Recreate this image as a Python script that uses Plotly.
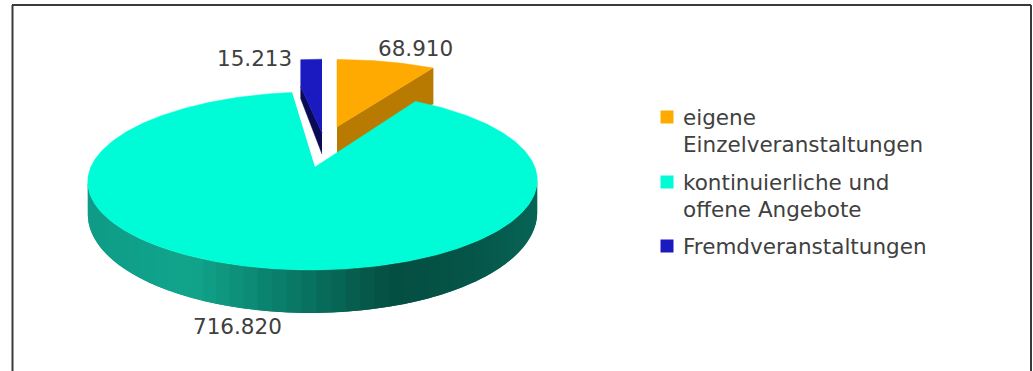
import numpy as np
import plotly.graph_objects as go

CATEGORIES = ["eigene Einzelveranstaltungen", "kontinuierliche und offene Angebote", "Fremdveranstaltungen"]
VALUES = [68910, 716820, 15213]
VALUE_LABELS = ["68.910", "716.820", "15.213"]
LEGEND_LINES = [["eigene", "Einzelveranstaltungen"], ["kontinuierliche und", "offene Angebote"], ["Fremdveranstaltungen"]]
TOP_COLORS = ["#FFAA00", "#00FCD6", "#1A1AC0"]
SIDE_COLORS = ["#B87A00", "#0E9C88", "#0B0B55"]

A, B, K = 222.0, 86.8, 0.157
APEX = [(337, 127), (315, 167), (322, 129)]
SCALE_X = [0.945, 1.0, 0.92]
SCALE_Y = [0.89, 1.0, 0.92]
SKEW = [0.0, -2.5, 0.0]


def project(theta, n):
    u, v = np.sin(theta), -np.cos(theta)
    w = 1 - K * v * (SCALE_X[n] + SCALE_Y[n]) / 2
    px = APEX[n][0] + A * u * SCALE_X[n] / w + SKEW[n] * (v + 1) / 1.15
    py = APEX[n][1] + B * v * SCALE_Y[n] / w
    return px, py, v


def drop(v):
    return 30 + 13 * v


fractions = np.array(VALUES) / sum(VALUES)
edges = np.concatenate([[0], np.cumsum(fractions)]) * 2 * np.pi
fig = go.Figure()


def poly(xs, ys, color, lw=0.5):
    fig.add_trace(go.Scatter(x=xs, y=ys, mode="lines", fill="toself", fillcolor=color,
                             line=dict(color=color, width=lw), hoverinfo="skip", showlegend=False))


# orange wedge: cut face (partly hidden by the large slice), then top
t = np.linspace(edges[0], edges[1], 40)
x, y, v = project(t, 0)
poly([APEX[0][0], x[-1], x[-1], APEX[0][0]], [APEX[0][1], y[-1], y[-1] + 36, APEX[0][1] + 30], SIDE_COLORS[0])
poly(np.r_[APEX[0][0], x], np.r_[APEX[0][1], y], TOP_COLORS[0])

# blue wedge
t = np.linspace(edges[2], edges[3], 12)
x, y, v = project(t, 2)
LIP = 27
poly([APEX[2][0], x[0], x[0], APEX[2][0]], [APEX[2][1] + 4, y[0] + LIP, y[0] + LIP + 12, APEX[2][1] + 25], SIDE_COLORS[2])
poly(np.r_[APEX[2][0], x[0], x], np.r_[APEX[2][1] + 4, y[0] + LIP, y], TOP_COLORS[2])

# teal side, shaded by horizontal position
GRAD_X = [88, 130, 200, 290, 400, 470, 537]
GRAD_C = [(15, 155, 135), (16, 160, 138), (18, 165, 140), (10, 125, 105), (6, 78, 66), (5, 85, 72), (8, 100, 85)]
t = np.linspace(edges[1], edges[2], 400)
x, y, v = project(t, 1)
d = drop(v)
mask = v >= K - 0.03
x_s, y_s, d_s = x[mask], y[mask], d[mask]
STEP = 4
for i in range(0, len(x_s) - 1, STEP):
    j = min(i + 2 * STEP, len(x_s) - 1)
    c = [int(np.interp(x_s[i], GRAD_X, [g[k] for g in GRAD_C])) for k in range(3)]
    idx = np.arange(i, j + 1)
    poly(np.r_[x_s[idx], x_s[idx][::-1]], np.r_[y_s[idx], (y_s + d_s)[idx][::-1]], f"rgb({c[0]},{c[1]},{c[2]})", lw=0)
poly(np.r_[APEX[1][0], x], np.r_[APEX[1][1], y], TOP_COLORS[1])

TEXT = "#404040"
LABEL_POS = [(415, 48), (237, 326), (254, 58)]
anns = [dict(x=p[0], y=p[1], text=l, showarrow=False, xanchor="center", yanchor="middle",
             font=dict(family="DejaVu Sans", size=21.5, color=TEXT)) for p, l in zip(LABEL_POS, VALUE_LABELS)]

LEG_X, LEG_SQ = 681, 667
LEG_Y = [[117, 144], [182, 209], [246]]
for lines, ys, col in zip(LEGEND_LINES, LEG_Y, TOP_COLORS):
    fig.add_trace(go.Scatter(x=[LEG_SQ], y=[ys[0]], mode="markers", showlegend=False, hoverinfo="skip",
                             marker=dict(symbol="square", size=13, color=col)))
    for line, yy in zip(lines, ys):
        anns.append(dict(x=LEG_X, y=yy, text=line, showarrow=False, xanchor="left", yanchor="middle",
                         font=dict(family="DejaVu Sans", size=21.5, color=TEXT)))

frame = dict(color="#3a3a3a", width=2)
shapes = [dict(type="line", x0=12.5, x1=12.5, y0=5, y1=371, line=frame),
          dict(type="line", x0=12, x1=1031, y0=5, y1=5, line=frame),
          dict(type="line", x0=1031, x1=1031, y0=5, y1=371, line=frame)]

fig.update_layout(width=1033, height=371, margin=dict(l=0, r=0, t=0, b=0), showlegend=False,
                  paper_bgcolor="white", plot_bgcolor="white", annotations=anns, shapes=shapes,
                  xaxis=dict(range=[0, 1033], visible=False, fixedrange=True),
                  yaxis=dict(range=[371, 0], visible=False, fixedrange=True))
fig.write_html("out.html", config=dict(displayModeBar=False),
               post_script="document.body.style.margin='0';document.body.style.overflow='hidden';")
